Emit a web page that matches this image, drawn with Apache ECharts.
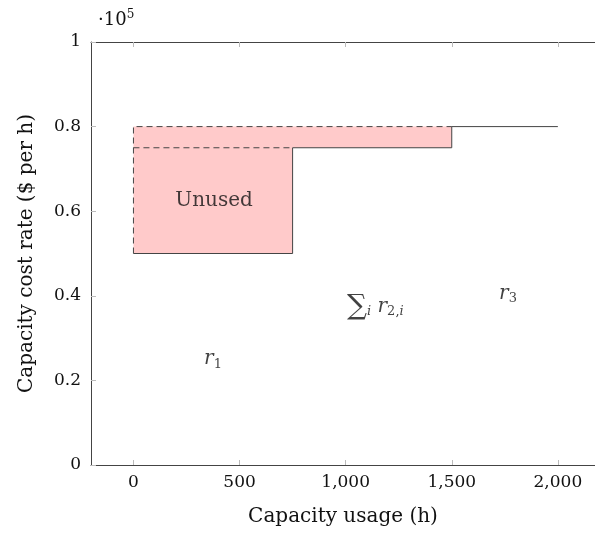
<!DOCTYPE html>
<html>
<head>
<meta charset="utf-8">
<script src="https://cdn.jsdelivr.net/npm/echarts@6/dist/echarts.min.js"></script>
<style>
  html, body { margin: 0; padding: 0; background: #fff; }
  #chart { width: 595px; height: 533px; }
</style>
</head>
<body>
<div id="chart"></div>
<script>
// capacity actually in use (solid step line)
var usedX = [0, 750, 750, 1500, 1500, 2000];
var usedY = [50000, 50000, 75000, 75000, 80000, 80000];
// capacity supplied (dashed outline)
var supplyX = [0, 0, 1500];
var supplyY = [50000, 80000, 80000];
var middleX = [0, 750];
var middleY = [75000, 75000];
// unused region
var unusedX = [0, 750, 750, 1500, 1500, 0];
var unusedY = [50000, 50000, 75000, 75000, 80000, 80000];
// text labels in the plot
var labelNames = ['unused', 'r1', 'r2', 'r3'];
var labelX = [380, 375, 1140, 1765];
var labelY = [62500, 25000, 37500, 40500];
// ticks
var xTicks = [0, 500, 1000, 1500, 2000];
var yTicks = [0, 0.2, 0.4, 0.6, 0.8, 1];

var FONT = 'DejaVu Serif';
var INK = '#111';
var pairs = function(xs, ys) {
    return xs.map((x, i) => [x, ys[i]]);
};

var labelText = {
    unused: 'Unused',
    r1: '{it|r}{sub|1}',
    r2: '{sum|∑}{subi|i} {it|r}{sub|2,}{subi|i}',
    r3: '{it|r}{sub|3}'
};

var richStyles = {
    it: { fontFamily: FONT, fontStyle: 'italic', fontSize: 20, color: INK },
    sub: { fontFamily: FONT, fontSize: 13, color: INK, padding: [10, 0, 0, 0] },
    subi: { fontFamily: FONT, fontStyle: 'italic', fontSize: 13, color: INK, padding: [10, 0, 0, 0] },
    sum: { fontFamily: FONT, fontSize: 28, color: INK }
};

var tickStyle = {
    inside: true, length: 5,
    lineStyle: { color: '#bbb' },
    customValues: xTicks
};

var chart = echarts.init(document.getElementById('chart'));

var option = {
    animation: false,
    grid: { left: 91, top: 42, right: 0, bottom: 68 },
    xAxis: [{
        type: 'value',
        min: -200,
        max: 2175,
        name: 'Capacity usage (h)',
        nameLocation: 'middle',
        nameGap: 42,
        nameTextStyle: { fontFamily: FONT, fontSize: 20, color: INK },
        axisLine: { onZero: false, lineStyle: { color: '#444', width: 1 } },
        axisTick: tickStyle,
        axisLabel: {
            fontFamily: FONT, fontSize: 17, color: INK, margin: 9,
            customValues: xTicks,
            formatter: v => v.toLocaleString('en-US')
        },
        splitLine: { show: false }
    }, {
        type: 'value',
        position: 'top',
        min: -200,
        max: 2175,
        axisLine: { onZero: false, lineStyle: { color: '#444', width: 1 } },
        axisTick: tickStyle,
        axisLabel: { show: false },
        splitLine: { show: false }
    }],
    yAxis: {
        type: 'value',
        min: 0,
        max: 100000,
        interval: 20000,
        name: 'Capacity cost rate ($ per h)',
        nameLocation: 'middle',
        nameGap: 54,
        nameTextStyle: { fontFamily: FONT, fontSize: 20, color: INK },
        axisLine: { show: true, onZero: false, lineStyle: { color: '#444', width: 1 } },
        axisTick: { show: true, inside: true, length: 5, lineStyle: { color: '#bbb' } },
        axisLabel: {
            fontFamily: FONT, fontSize: 17, color: INK, margin: 10,
            formatter: v => String(yTicks[Math.round(v / 20000)])
        },
        splitLine: { show: false }
    },
    graphic: [{
        type: 'text',
        left: 98,
        top: 9,
        style: {
            text: '·10{sup|5}',
            fontFamily: FONT,
            fontSize: 18,
            fill: INK,
            rich: { sup: { fontFamily: FONT, fontSize: 12, fill: INK, padding: [0, 0, 10, 0] } }
        }
    }],
    series: [{
        type: 'custom',
        z: 1,
        data: [0],
        renderItem: (params, api) => {
            var pts = pairs(unusedX, unusedY).map(p => api.coord(p));
            return {
                type: 'polygon',
                shape: { points: pts },
                style: { fill: '#ffcaca', stroke: 'none' }
            };
        }
    }, {
        type: 'line',
        z: 3,
        data: pairs(usedX, usedY),
        symbol: 'none',
        lineStyle: { color: '#444', width: 1 }
    }, {
        type: 'line',
        z: 3,
        data: pairs(supplyX, supplyY),
        symbol: 'none',
        lineStyle: { color: '#444', width: 1, type: [6, 4] }
    }, {
        type: 'line',
        z: 3,
        data: pairs(middleX, middleY),
        symbol: 'none',
        lineStyle: { color: '#444', width: 1, type: [6, 4] }
    }, {
        type: 'scatter',
        z: 4,
        symbolSize: 0,
        itemStyle: { color: INK },
        data: labelNames.map((n, i) => ({ name: n, value: [labelX[i], labelY[i]] })),
        label: {
            show: true,
            position: 'inside',
            fontFamily: FONT,
            fontSize: 20,
            color: INK,
            textBorderWidth: 0,
            formatter: p => labelText[p.name],
            rich: richStyles
        }
    }]
};

chart.setOption(option);
window.onresize = function() {
    chart.resize();
};
</script>
</body>
</html>
